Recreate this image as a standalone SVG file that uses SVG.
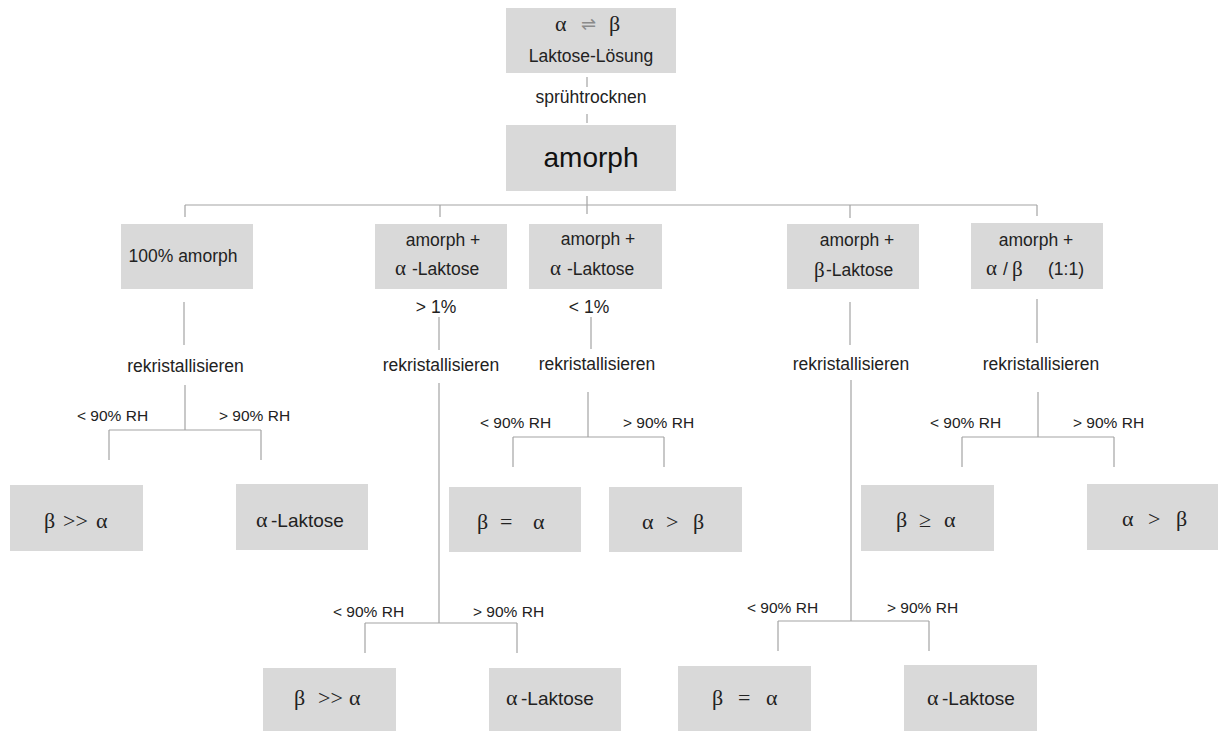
<svg xmlns="http://www.w3.org/2000/svg" width="1218" height="731" viewBox="0 0 1218 731">
<style>
.box{fill:#d9d9d9;}
.t{font-family:"Liberation Sans",Arial,sans-serif;font-size:17.5px;fill:#222;}
.tc{font-family:"Liberation Sans",Arial,sans-serif;font-size:17.5px;fill:#222;text-anchor:middle;}
.rh{font-family:"Liberation Sans",Arial,sans-serif;font-size:15.5px;fill:#222;}
.b{font-family:"Liberation Sans",Arial,sans-serif;font-size:19px;fill:#222;}
.g{font-family:"Liberation Serif","Times New Roman",serif;font-size:22px;fill:#222;}
.gs{font-family:"Liberation Serif","Times New Roman",serif;font-size:21px;fill:#222;}
.big{font-family:"Liberation Sans",Arial,sans-serif;font-size:28px;fill:#111;text-anchor:middle;}
.c line{stroke:#a3a3a3;stroke-width:1.2;fill:none;}
</style>
<rect width="1218" height="731" fill="#ffffff"/>

<g id="connectors" class="c">
<line x1="587" y1="77" x2="587" y2="87"/>
<line x1="587" y1="114" x2="587" y2="123"/>
<line x1="587" y1="196" x2="587" y2="214"/>
<line x1="185" y1="205" x2="1037" y2="205"/>
<line x1="185" y1="205" x2="185" y2="217"/>
<line x1="440" y1="205" x2="440" y2="217"/>
<line x1="850" y1="205" x2="850" y2="218"/>
<line x1="1037" y1="205" x2="1037" y2="216"/>
<line x1="184" y1="302" x2="184" y2="345"/>
<line x1="185" y1="385" x2="185" y2="430"/>
<line x1="109" y1="430" x2="261" y2="430"/>
<line x1="109" y1="430" x2="109" y2="460"/>
<line x1="261" y1="430" x2="261" y2="460"/>
<line x1="439" y1="317" x2="439" y2="350"/>
<line x1="439" y1="383" x2="439" y2="623"/>
<line x1="365" y1="623" x2="517" y2="623"/>
<line x1="365" y1="623" x2="365" y2="653"/>
<line x1="517" y1="623" x2="517" y2="653"/>
<line x1="591" y1="317" x2="591" y2="349"/>
<line x1="588" y1="392" x2="588" y2="437"/>
<line x1="513" y1="437" x2="664" y2="437"/>
<line x1="513" y1="437" x2="513" y2="467"/>
<line x1="664" y1="437" x2="664" y2="467"/>
<line x1="850" y1="302" x2="850" y2="345"/>
<line x1="851" y1="380" x2="851" y2="621"/>
<line x1="778" y1="621" x2="929" y2="621"/>
<line x1="778" y1="621" x2="778" y2="651"/>
<line x1="929" y1="621" x2="929" y2="651"/>
<line x1="1037" y1="299" x2="1037" y2="343"/>
<line x1="1038" y1="392" x2="1038" y2="437"/>
<line x1="962" y1="437" x2="1114" y2="437"/>
<line x1="962" y1="437" x2="962" y2="467"/>
<line x1="1114" y1="437" x2="1114" y2="467"/>
</g>

<g id="labels">
<text class="tc" x="591" y="103">sprühtrocknen</text>
<text class="tc" x="436" y="313">&gt; 1%</text>
<text class="tc" x="589" y="313">&lt; 1%</text>
<text class="tc" x="185.5" y="372">rekristallisieren</text>
<text class="tc" x="441" y="371">rekristallisieren</text>
<text class="tc" x="597" y="370">rekristallisieren</text>
<text class="tc" x="851" y="370">rekristallisieren</text>
<text class="tc" x="1041" y="370">rekristallisieren</text>
<text class="rh" x="77" y="421">&lt; 90% RH</text>
<text class="rh" x="219" y="421">&gt; 90% RH</text>
<text class="rh" x="480" y="428">&lt; 90% RH</text>
<text class="rh" x="623" y="428">&gt; 90% RH</text>
<text class="rh" x="930" y="428">&lt; 90% RH</text>
<text class="rh" x="1073" y="428">&gt; 90% RH</text>
<text class="rh" x="333" y="617">&lt; 90% RH</text>
<text class="rh" x="473" y="617">&gt; 90% RH</text>
<text class="rh" x="747" y="613">&lt; 90% RH</text>
<text class="rh" x="887" y="613">&gt; 90% RH</text>
</g>

<g id="n-top">
<rect class="box" x="506" y="8" width="170" height="65"/>
<text class="g" x="555" y="31">α</text>
<text x="581" y="30" style="font-family:'DejaVu Sans',sans-serif;font-size:18px;fill:#8a8a8a">⇌</text>
<text class="g" x="609" y="31">β</text>
<text class="tc" x="591" y="62">Laktose-Lösung</text>
</g>

<g id="n-amorph">
<rect class="box" x="506" y="125" width="170" height="66"/>
<text class="big" x="591" y="167">amorph</text>
</g>

<g id="n-a">
<rect class="box" x="121" y="224" width="132" height="65"/>
<text class="tc" x="183" y="262">100% amorph</text>
</g>

<g id="n-b">
<rect class="box" x="375" y="224" width="132" height="65"/>
<text class="tc" x="443" y="246">amorph +</text>
<text class="gs" x="395" y="275">α</text>
<text class="t" x="412" y="275">-Laktose</text>
</g>

<g id="n-c">
<rect class="box" x="529" y="224" width="133" height="65"/>
<text class="tc" x="598" y="245">amorph +</text>
<text class="gs" x="550" y="275">α</text>
<text class="t" x="567" y="275">-Laktose</text>
</g>

<g id="n-d">
<rect class="box" x="787" y="224" width="132" height="65"/>
<text class="tc" x="857" y="246">amorph +</text>
<text class="gs" x="814" y="277">β</text>
<text class="t" x="826" y="276">-Laktose</text>
</g>

<g id="n-e">
<rect class="box" x="971" y="223" width="132" height="66"/>
<text class="tc" x="1036" y="246">amorph +</text>
<text class="gs" x="986" y="275">α</text>
<text class="t" x="1003" y="275">/</text>
<text class="gs" x="1012" y="276">β</text>
<text class="t" x="1048" y="275">(1:1)</text>
</g>

<g id="r2-1">
<rect class="box" x="10" y="485" width="133" height="66"/>
<text class="g" x="44" y="528">β</text>
<text class="g" x="63" y="528">&gt;&gt;</text>
<text class="g" x="96" y="528">α</text>
</g>
<g id="r2-2">
<rect class="box" x="236" y="484" width="132" height="66"/>
<text class="g" x="256" y="527">α</text>
<text class="b" x="271" y="527">-Laktose</text>
</g>
<g id="r2-3">
<rect class="box" x="449" y="487" width="132" height="65"/>
<text class="g" x="477" y="529">β</text>
<text class="g" x="500" y="529">=</text>
<text class="g" x="533" y="529">α</text>
</g>
<g id="r2-4">
<rect class="box" x="609" y="487" width="133" height="65"/>
<text class="g" x="642" y="529">α</text>
<text class="g" x="666" y="529">&gt;</text>
<text class="g" x="693" y="529">β</text>
</g>
<g id="r2-5">
<rect class="box" x="861" y="485" width="133" height="66"/>
<text class="g" x="896" y="527">β</text>
<text class="g" x="919" y="527">≥</text>
<text class="g" x="944" y="527">α</text>
</g>
<g id="r2-6">
<rect class="box" x="1087" y="484" width="131" height="66"/>
<text class="g" x="1122" y="526">α</text>
<text class="g" x="1148" y="526">&gt;</text>
<text class="g" x="1176" y="526">β</text>
</g>

<g id="r3-1">
<rect class="box" x="263" y="668" width="133" height="63"/>
<text class="g" x="294" y="705">β</text>
<text class="g" x="318" y="705">&gt;&gt;</text>
<text class="g" x="349" y="705">α</text>
</g>
<g id="r3-2">
<rect class="box" x="489" y="668" width="132" height="63"/>
<text class="g" x="506" y="705">α</text>
<text class="b" x="521" y="705">-Laktose</text>
</g>
<g id="r3-3">
<rect class="box" x="678" y="666" width="133" height="65"/>
<text class="g" x="712" y="705">β</text>
<text class="g" x="738" y="705">=</text>
<text class="g" x="766" y="705">α</text>
</g>
<g id="r3-4">
<rect class="box" x="904" y="665" width="133" height="66"/>
<text class="g" x="927" y="705">α</text>
<text class="b" x="942" y="705">-Laktose</text>
</g>
</svg>
